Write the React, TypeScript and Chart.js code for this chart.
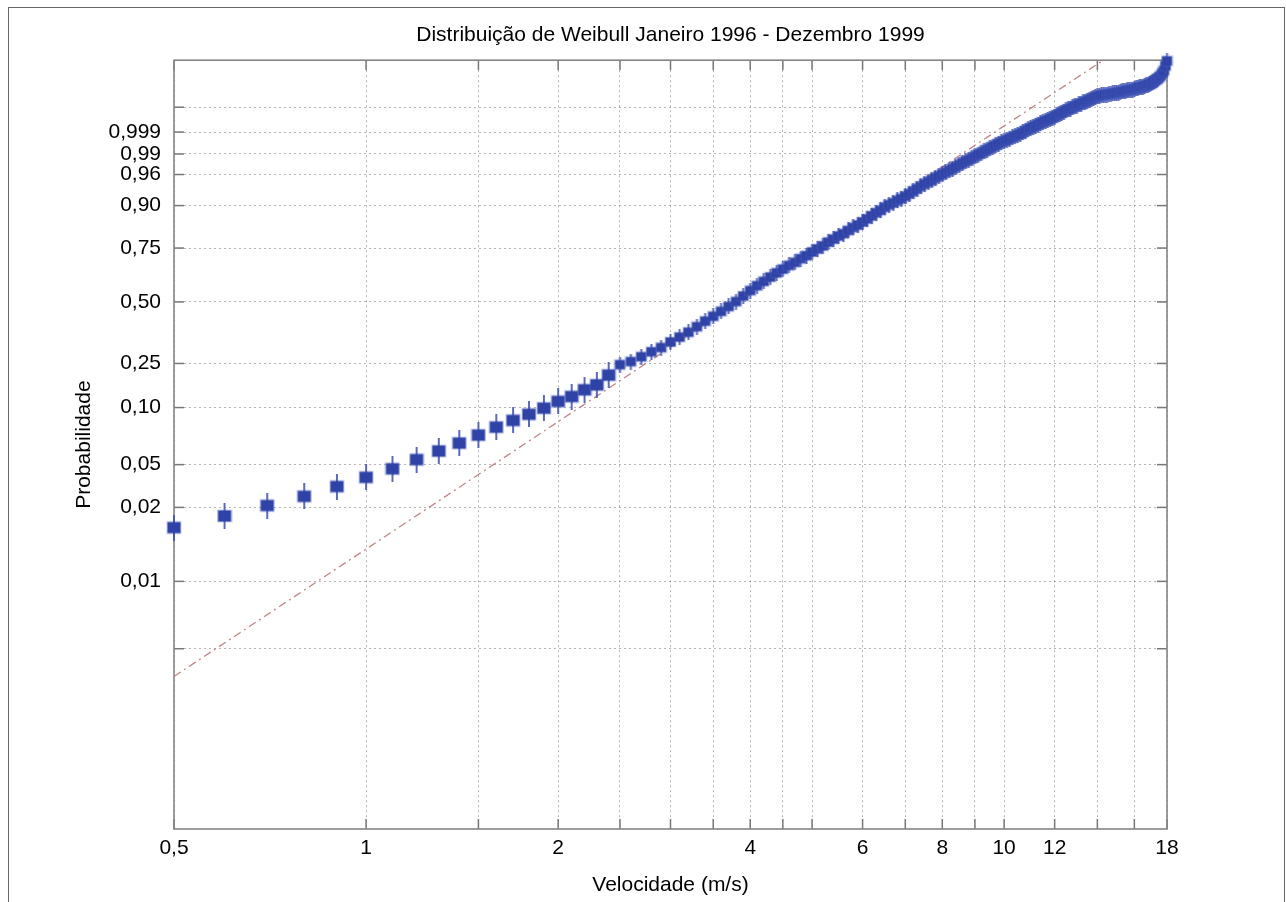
import React, { useEffect, useRef } from 'react';
import { Chart, registerables } from 'chart.js';

Chart.register(...registerables);

// ---------- texts ----------
const chartTitle = 'Distribuição de Weibull Janeiro 1996 - Dezembro 1999';
const xTitle = 'Velocidade (m/s)';
const yTitle = 'Probabilidade';

// ---------- x axis (log) ----------
const xMin = 0.5;
const xMax = 18;
const xGridValues = [0.5, 1, 1.5, 2, 2.5, 3, 3.5, 4, 4.5, 5, 6, 7, 8, 9, 10, 12, 14, 16, 18];
const xLabelValues = [0.5, 1, 2, 4, 6, 8, 10, 12, 18];
const xLabelTexts = ['0,5', '1', '2', '4', '6', '8', '10', '12', '18'];

// ---------- y axis (Weibull reduced variate ln(-ln(1-p))) ----------
const yGridProbs = [0.001, 0.003, 0.01, 0.02, 0.05, 0.1, 0.25, 0.5, 0.75, 0.9, 0.96, 0.99, 0.999];
const yTickLabels = ['', '0,01', '0,02', '0,05', '0,10', '0,25', '0,50', '0,75', '0,90', '0,96', '0,99', '0,999', ''];
const yMin = -9.85;
const yMax = 2.7;

// ---------- data: observed speeds (m/s) and reduced variate ----------
const lowSpeeds = [0.5, 0.6, 0.7, 0.8, 0.9, 1.0, 1.1, 1.2, 1.3, 1.4, 1.5, 1.6, 1.7, 1.8, 1.9, 2.0, 2.1, 2.2, 2.3, 2.4];
const lowReduced = [-4.93, -4.74, -4.57, -4.42, -4.26, -4.11, -3.97, -3.82, -3.68, -3.55, -3.42, -3.29, -3.18, -3.08, -2.98, -2.87, -2.79, -2.68, -2.6, -2.44];

const highSpeeds = [
  2.5, 2.6, 2.7, 2.8, 2.9, 3.0, 3.1, 3.2, 3.3, 3.4,
  3.5, 3.6, 3.7, 3.8, 3.9, 4.0, 4.1, 4.2, 4.3, 4.4,
  4.5, 4.6, 4.7, 4.8, 4.9, 5.0, 5.1, 5.2, 5.3, 5.4,
  5.5, 5.6, 5.7, 5.8, 5.9, 6.0, 6.1, 6.2, 6.3, 6.4,
  6.5, 6.6, 6.7, 6.8, 6.9, 7.0, 7.1, 7.2, 7.3, 7.4,
  7.5, 7.6, 7.7, 7.8, 7.9, 8.0, 8.1, 8.2, 8.3, 8.4,
  8.5, 8.6, 8.7, 8.8, 8.9, 9.0, 9.1, 9.2, 9.3, 9.4,
  9.5, 9.6, 9.7, 9.8, 9.9, 10.0, 10.1, 10.2, 10.3, 10.4,
  10.5, 10.6, 10.7, 10.8, 10.9, 11.0, 11.1, 11.2, 11.3, 11.4,
  11.5, 11.6, 11.7, 11.8, 11.9, 12.0, 12.1, 12.2, 12.3, 12.4,
  12.5, 12.6, 12.7, 12.8, 12.9, 13.0, 13.1, 13.2, 13.3, 13.4,
  13.5, 13.6, 13.7, 13.8, 13.9, 14.0, 14.1, 14.2, 14.3, 14.4,
  14.5, 14.6, 14.7, 14.8, 14.9, 15.0, 15.1, 15.2, 15.3, 15.4,
  15.5, 15.6, 15.7, 15.8, 15.9, 16.0, 16.1, 16.2, 16.3, 16.4,
  16.5, 16.6, 16.7, 16.8, 16.9, 17.0, 17.1, 17.2, 17.3, 17.4,
  17.5, 17.6, 17.7, 17.8, 17.9, 18.0,
];
const highReduced = [
  -2.27, -2.22, -2.14, -2.06, -1.99, -1.9, -1.82, -1.74, -1.65, -1.56,
  -1.48, -1.4, -1.32, -1.24, -1.15, -1.06, -0.98, -0.91, -0.84, -0.77,
  -0.71, -0.65, -0.6, -0.54, -0.49, -0.43, -0.38, -0.33, -0.27, -0.22,
  -0.17, -0.13, -0.08, -0.03, 0.01, 0.06, 0.11, 0.16, 0.21, 0.25,
  0.3, 0.34, 0.37, 0.41, 0.44, 0.48, 0.52, 0.56, 0.6, 0.64,
  0.68, 0.71, 0.74, 0.78, 0.81, 0.84, 0.87, 0.9, 0.93, 0.96,
  0.99, 1.02, 1.05, 1.07, 1.1, 1.13, 1.16, 1.18, 1.21, 1.24,
  1.26, 1.29, 1.31, 1.34, 1.36, 1.38, 1.4, 1.42, 1.44, 1.46,
  1.48, 1.5, 1.52, 1.55, 1.57, 1.59, 1.61, 1.63, 1.65, 1.67,
  1.69, 1.71, 1.72, 1.74, 1.76, 1.78, 1.8, 1.82, 1.84, 1.86,
  1.88, 1.9, 1.91, 1.93, 1.95, 1.96, 1.98, 1.99, 2.01, 2.02,
  2.04, 2.05, 2.07, 2.08, 2.1, 2.11, 2.12, 2.13, 2.13, 2.14,
  2.14, 2.15, 2.15, 2.16, 2.16, 2.17, 2.17, 2.18, 2.19, 2.19,
  2.2, 2.21, 2.21, 2.22, 2.22, 2.23, 2.24, 2.25, 2.26, 2.26,
  2.27, 2.28, 2.29, 2.3, 2.31, 2.32, 2.34, 2.36, 2.38, 2.4,
  2.42, 2.45, 2.49, 2.53, 2.61, 2.69,
];

// fitted Weibull reference line (end points)
const fitSpeeds = [0.5, 18];
const fitReduced = [-7.36, 3.39];

// ---------- styles ----------
const FONT = "'Liberation Sans', Arial, Helvetica, sans-serif";
const markerColor = '#2f42a6';
const markerArmColor = 'rgba(62, 80, 176, 0.85)';
const markerHaloColor = 'rgba(90, 110, 200, 0.35)';
const fitColor = 'rgba(185, 120, 120, 0.9)';
const gridColor = 'rgba(110, 110, 110, 0.5)';

const yGridValues = yGridProbs.map((p) => Math.log(-Math.log(1 - p)));

function makeMarker(w: number, h: number, rw: number, rh: number, lw: number) {
  const c = document.createElement('canvas');
  c.width = w;
  c.height = h;
  const g = c.getContext('2d')!;
  g.fillStyle = markerHaloColor;
  g.fillRect((w - rw) / 2 - 1, (h - rh) / 2 - 1, rw + 2, rh + 2);
  g.fillStyle = markerArmColor;
  g.fillRect((w - lw) / 2, 0, lw, h);
  g.fillStyle = markerColor;
  g.fillRect((w - rw) / 2, (h - rh) / 2, rw, rh);
  return c;
}

const frameTicksPlugin = {
  id: 'frameTicks',
  beforeDatasetsDraw(chart: any) {
    const { ctx, chartArea: a, scales } = chart;
    ctx.save();
    ctx.strokeStyle = '#777';
    ctx.lineWidth = 1.5;
    const seg = (x1: number, y1: number, x2: number, y2: number) => {
      ctx.beginPath();
      ctx.moveTo(x1, y1);
      ctx.lineTo(x2, y2);
      ctx.stroke();
    };
    for (const v of xGridValues) {
      const px = scales.x.getPixelForValue(v);
      seg(px, a.bottom, px, a.bottom - 10);
      seg(px, a.top, px, a.top + 10);
    }
    for (const v of yGridValues) {
      const py = scales.y.getPixelForValue(v);
      seg(a.left, py, a.left + 10, py);
      seg(a.right, py, a.right - 10, py);
    }
    ctx.strokeStyle = '#858585';
    ctx.lineWidth = 1.6;
    ctx.strokeRect(a.left, a.top, a.right - a.left, a.bottom - a.top);
    ctx.restore();
  },
};

export default function App() {
  const ref = useRef<HTMLCanvasElement>(null);

  useEffect(() => {
    const canvas = ref.current;
    if (!canvas) return;
    const lowMarker = makeMarker(16, 26, 13, 11, 2);
    const highMarker = makeMarker(13, 16, 10, 9, 2);

    const chart = new Chart(canvas, {
      type: 'scatter',
      data: {
        datasets: [
          {
            label: 'baixas',
            data: lowSpeeds.map((x, i) => ({ x, y: lowReduced[i] })),
            pointStyle: lowMarker as any,
            pointRadius: 3,
            clip: false as any,
          },
          {
            label: 'altas',
            data: highSpeeds.map((x, i) => ({ x, y: highReduced[i] })),
            pointStyle: highMarker as any,
            pointRadius: 3,
            clip: false as any,
          },
          {
            label: 'ajuste',
            data: fitSpeeds.map((x, i) => ({ x, y: fitReduced[i] })),
            showLine: true,
            borderColor: fitColor,
            borderWidth: 1.3,
            borderDash: [8, 4, 2, 4],
            pointRadius: 0,
            fill: false,
          } as any,
        ],
      },
      options: {
        responsive: false,
        animation: false,
        events: [],
        layout: { padding: { left: 0, right: 117, top: 0, bottom: 0 } },
        plugins: {
          legend: { display: false },
          tooltip: { enabled: false },
          title: {
            display: true,
            text: chartTitle,
            fullSize: false,
            color: '#000',
            font: { family: FONT, size: 21, weight: 'normal', lineHeight: 1.2 },
            padding: { top: 15, bottom: 12 },
          },
        },
        scales: {
          x: {
            type: 'logarithmic',
            min: xMin,
            max: xMax,
            afterBuildTicks: (s: any) => {
              s.ticks = xGridValues.map((v) => ({ value: v }));
            },
            afterFit: (s: any) => {
              s.height = 73;
            },
            grid: { color: gridColor, lineWidth: 1, drawTicks: false },
            border: { display: false, dash: [2, 3] },
            ticks: {
              autoSkip: false,
              maxRotation: 0,
              minRotation: 0,
              padding: 7,
              color: '#000',
              font: { family: FONT, size: 21, lineHeight: 1.2 },
              callback: (v: any) => {
                const i = xLabelValues.indexOf(Number(v));
                return i >= 0 ? xLabelTexts[i] : '';
              },
            },
            title: {
              display: true,
              text: xTitle,
              color: '#000',
              font: { family: FONT, size: 21, lineHeight: 1.2 },
              padding: { top: 0, bottom: 4 },
            },
          },
          y: {
            type: 'linear',
            min: yMin,
            max: yMax,
            afterBuildTicks: (s: any) => {
              s.ticks = yGridValues.map((v) => ({ value: v }));
            },
            afterFit: (s: any) => {
              s.width = 165;
            },
            grid: { color: gridColor, lineWidth: 1, drawTicks: false },
            border: { display: false, dash: [2, 3] },
            ticks: {
              autoSkip: false,
              padding: 13,
              color: '#000',
              font: { family: FONT, size: 21, lineHeight: 1.2 },
              callback: (_v: any, i: number) => yTickLabels[i],
            },
            title: {
              display: true,
              text: yTitle,
              color: '#000',
              font: { family: FONT, size: 21, lineHeight: 1.2 },
              padding: { top: 63, bottom: 0 },
            },
          },
        },
      } as any,
      plugins: [frameTicksPlugin],
    });

    return () => chart.destroy();
  }, []);

  return (
    <div
      style={{
        position: 'fixed',
        left: 8,
        top: 7,
        width: 1277,
        height: 910,
        border: '1px solid #666',
        boxSizing: 'border-box',
        background: '#fff',
      }}
    >
      <canvas ref={ref} width={1275} height={894} style={{ display: 'block' }} />
    </div>
  );
}
